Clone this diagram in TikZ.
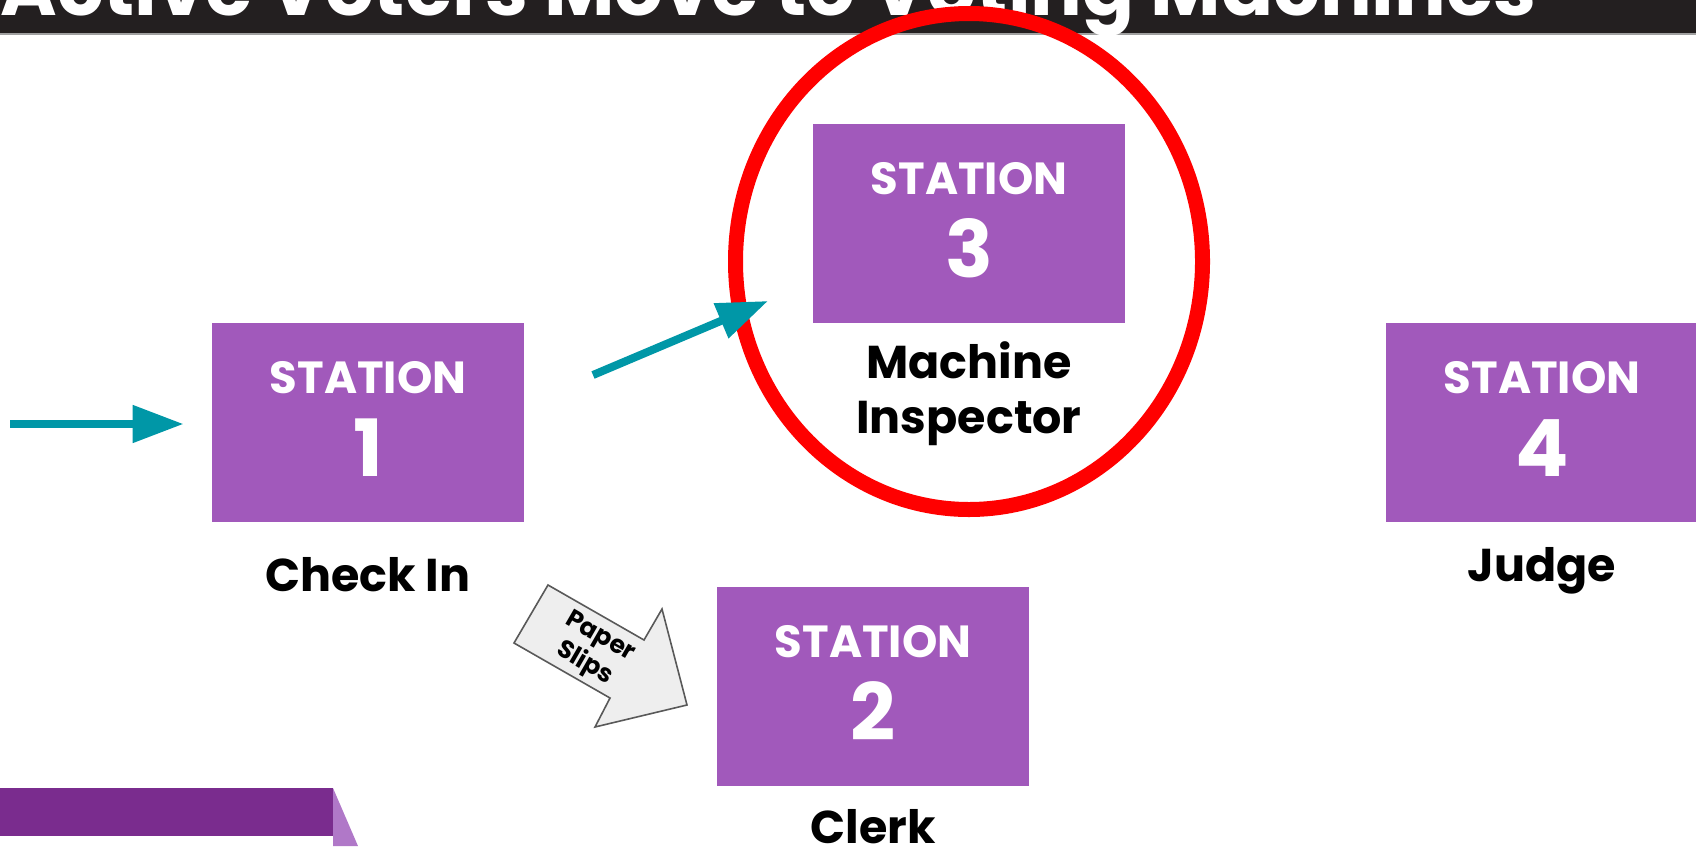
\documentclass[tikz,border=0pt]{standalone}
\usepackage{fontspec}
\setmainfont{Poppins}
\usetikzlibrary{arrows.meta,calc}
\definecolor{stpurple}{RGB}{161,89,187}
\definecolor{arrowteal}{RGB}{0,151,167}
\definecolor{titlebg}{RGB}{35,31,32}
\definecolor{titleline}{RGB}{160,160,160}
\definecolor{bannerdark}{RGB}{122,44,142}
\definecolor{bannerlight}{RGB}{176,120,200}
\definecolor{slipfill}{RGB}{238,238,238}
\definecolor{slipdraw}{RGB}{89,89,89}
\begin{document}
\begin{tikzpicture}[x=0.5pt,y=-0.5pt,
  stbox/.style={fill=stpurple, draw=none, minimum width=156pt, minimum height=99.5pt, inner sep=0pt},
  sttitle/.style={text=white, font=\bfseries\fontsize{22.5}{22.5}\selectfont, anchor=base, inner sep=0pt},
  stnum/.style={text=white, font=\bfseries\fontsize{39.5}{40}\selectfont, anchor=base, inner sep=0pt},
  stlabel/.style={text=black, font=\bfseries\fontsize{23}{27}\selectfont, anchor=base, inner sep=0pt},
  flowarrow/.style={draw=arrowteal, line width=4pt, -{Triangle[length=25.5pt,width=18pt]}},
]
\useasboundingbox (0,0) rectangle (1696,846);
\clip (0,0) rectangle (1696,846);
% title bar
\fill[titlebg] (0,0) rectangle (1696,33);
\fill[titleline] (0,33) rectangle (1696,35);
\node[anchor=base west, text=white, inner sep=0pt, font=\bfseries\fontsize{38.4}{40}\selectfont] (title) at (0,15) {Active Voters Move to Voting Machines};
% stations
\node[stbox] (s1) at (368,422.5) {};
\node[stbox] (s3) at (969,223.5) {};
\node[stbox] (s4) at (1542,422) {};
\node[stbox] (s2) at (873,686.5) {};
\foreach \s/\n in {s1/1,s2/2,s3/3,s4/4}{
  \node[sttitle] (\s t) at ($(\s.north)+(0,71)$) {STATION};
  \node[stnum] (\s n) at ($(\s.north)+(0,154)$) {\n};
}
\node[stlabel] (l1) at ($(s1.south)+(0,69)$) {Check In};
\node[stlabel] (l3a) at ($(s3.south)+(0,55)$) {Machine};
\node[stlabel] (l3b) at ($(s3.south)+(0,110)$) {Inspector};
\node[stlabel] (l4) at ($(s4.south)+(0,60)$) {Judge};
\node[stlabel] (l2) at ($(s2.south)+(0,57)$) {Clerk};
% red circle
\draw[red, line width=7.5pt] (969,261.5) ellipse [x radius=233.5, y radius=248];
% teal arrows
\coordinate (a1s) at (10,424);
\draw[flowarrow] (a1s) -- ($(s1.west)+(-28,1.5)$);
\coordinate (a2s) at (593,375);
\coordinate (a2e) at (768,301);
\draw[flowarrow] (a2s) -- (a2e);
% paper slips arrow
\filldraw[fill=slipfill, draw=slipdraw, line width=0.8pt, line join=miter]
  (548,585) -- (644,640) -- (662,609) -- (687,705) -- (595,727) -- (610,698) -- (514,643) -- cycle;
\node[rotate=-30, align=center, inner sep=0pt, font=\bfseries\fontsize{12.5}{15.5}\selectfont] (slips) at (592,651) {Paper\\Slips};
% bottom-left banner
\fill[bannerlight] (333,788) -- (358,846) -- (333,846) -- cycle;
\fill[bannerdark] (0,788) rectangle (333,836);
\end{tikzpicture}
\end{document}
